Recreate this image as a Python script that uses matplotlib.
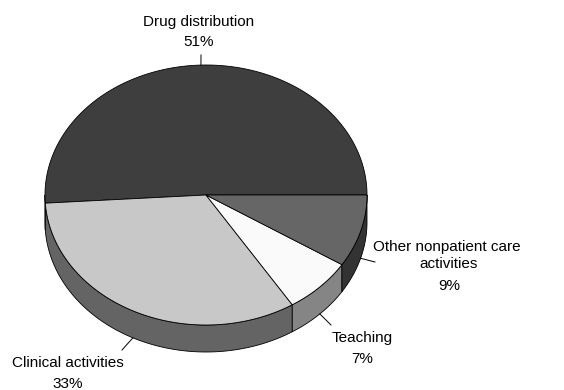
import numpy as np
import matplotlib
matplotlib.use("Agg")
import matplotlib.pyplot as plt
from matplotlib.patches import Polygon

plt.rcParams['font.family'] = ['Liberation Sans', 'DejaVu Sans']

# Share of pharmacist time by activity
categories = ["Drug distribution", "Clinical activities", "Teaching",
              "Other nonpatient care\nactivities"]
shares = [51, 33, 7, 9]
pct_labels = ["51%", "33%", "7%", "9%"]

top_colors = ["#3e3e3e", "#c8c8c8", "#fafafa", "#666666"]
side_colors = ["#252525", "#646464", "#858585", "#333333"]

W, H = 564, 390
fig = plt.figure(figsize=(W / 100, H / 100), dpi=100)
ax = fig.add_axes([0, 0, 1, 1])
ax.set_xlim(0, W)
ax.set_ylim(H, 0)
ax.axis("off")

cx, cy = 206, 195
rx, ry = 161, 130
depth = 27


def pt(t, dy=0.0):
    return cx + rx * np.cos(t), cy - ry * np.sin(t) + dy


fracs = np.array(shares, dtype=float) / sum(shares)
edges = np.concatenate([[0], np.cumsum(fracs)]) * 2 * np.pi

# side walls (front half only)
for i in range(len(shares)):
    a, b = edges[i], edges[i + 1]
    a2, b2 = max(a, np.pi), min(b, 2 * np.pi)
    if b2 <= a2:
        continue
    t = np.linspace(a2, b2, 120)
    xs, ys = pt(t)
    xb, yb = pt(t[::-1], depth)
    poly = np.column_stack([np.concatenate([xs, xb]), np.concatenate([ys, yb])])
    ax.add_patch(Polygon(poly, closed=True, facecolor=side_colors[i],
                         edgecolor="black", linewidth=0.6, zorder=1))

# top faces
for i in range(len(shares)):
    a, b = edges[i], edges[i + 1]
    t = np.linspace(a, b, 300)
    xs, ys = pt(t)
    poly = np.column_stack([np.concatenate([[cx], xs]), np.concatenate([[cy], ys])])
    ax.add_patch(Polygon(poly, closed=True, facecolor=top_colors[i],
                         edgecolor="black", linewidth=0.6, zorder=2))

# leader lines and labels
leader_end = [(201, 55), (122, 350), (331, 325), (375, 262)]
label_pos = [(199, 22), (68, 363), (362, 338), (447, 247)]
pct_pos = [(199, 42), (68, 384), (362, 359), (449, 286)]
for i in range(len(shares)):
    mid = (edges[i] + edges[i + 1]) / 2
    dy = depth if np.sin(mid) < 0 else 0
    x0, y0 = pt(mid, dy)
    x1, y1 = leader_end[i]
    ax.plot([x0, x1], [y0, y1], color="black", linewidth=0.7, zorder=3)
    lx, ly = label_pos[i]
    if "\n" in categories[i]:
        l1, l2 = categories[i].split("\n")
        ax.text(lx, ly, l1, ha="center", va="center", fontsize=11)
        ax.text(lx + 2, ly + 17, l2, ha="center", va="center", fontsize=11)
    else:
        ax.text(lx, ly, categories[i], ha="center", va="center", fontsize=11)
    px, py = pct_pos[i]
    ax.text(px, py, pct_labels[i], ha="center", va="center", fontsize=11)

fig.savefig("out.png", dpi=100)
